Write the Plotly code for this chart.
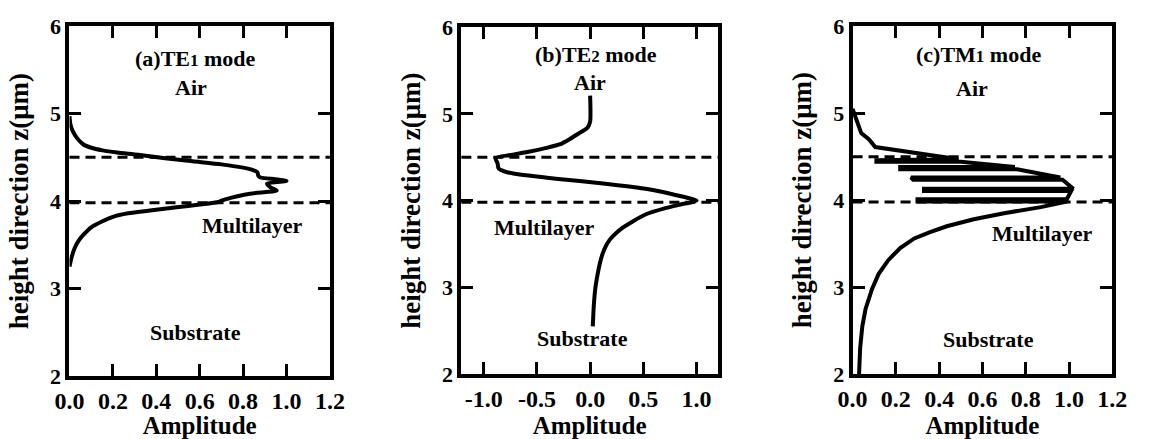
import plotly.graph_objects as go

# ---------------- data ----------------
# Panel (a) TE1 mode
amp_a = [0.0, 0.004, 0.015, 0.035, 0.0625, 0.10, 0.152, 0.22, 0.316, 0.44, 0.568, 0.70, 0.807,
         0.84, 0.866, 0.87, 0.88, 0.95, 1.0, 0.91, 0.93, 0.955, 0.866, 0.80, 0.747, 0.70, 0.6875,
         0.60, 0.494, 0.38, 0.27, 0.20, 0.152, 0.10, 0.0625, 0.04, 0.025, 0.01, 0.0]
z_a = [4.97, 4.88, 4.80, 4.72, 4.65, 4.61, 4.58, 4.555, 4.53, 4.49, 4.455, 4.42, 4.38,
       4.36, 4.33, 4.29, 4.27, 4.25, 4.23, 4.20, 4.15, 4.12, 4.095, 4.07, 4.04, 4.005, 3.99,
       3.96, 3.93, 3.895, 3.86, 3.82, 3.77, 3.70, 3.61, 3.54, 3.47, 3.36, 3.25]

# Panel (b) TE2 mode
amp_b = [0.0, 0.0, -0.025, -0.10, -0.19, -0.28, -0.42, -0.59, -0.75, -0.89, -0.87, -0.86,
         -0.80, -0.71, -0.30, 0.10, 0.55, 0.80, 1.0, 0.85, 0.70, 0.52, 0.40, 0.31, 0.24,
         0.185, 0.145, 0.115, 0.09, 0.07, 0.05, 0.035, 0.025]
z_b = [5.21, 4.91, 4.84, 4.78, 4.71, 4.65, 4.605, 4.56, 4.525, 4.49, 4.43, 4.37,
       4.335, 4.31, 4.25, 4.20, 4.13, 4.065, 4.0, 3.955, 3.91, 3.84, 3.76, 3.69, 3.62,
       3.55, 3.47, 3.38, 3.27, 3.15, 3.0, 2.8, 2.55]

# Panel (c) TM1 mode
amp_c = [0.0, 0.02, 0.04, 0.075, 0.10, 0.105, 0.49, 0.11, 0.11, 0.50, 0.75, 0.22, 0.22,
         0.76, 0.96, 0.27, 0.28, 0.97, 1.02, 0.33, 0.33, 1.01, 0.99, 0.30, 0.30, 0.99,
         0.87, 0.70, 0.56, 0.435, 0.355, 0.285, 0.22, 0.165, 0.12, 0.09, 0.06, 0.045, 0.035, 0.03]
z_c = [5.05, 4.90, 4.77, 4.70, 4.63, 4.61, 4.47, 4.46, 4.44, 4.44, 4.38, 4.38, 4.355,
       4.355, 4.26, 4.26, 4.235, 4.235, 4.13, 4.13, 4.105, 4.105, 4.01, 4.01, 3.985, 3.985,
       3.92, 3.85, 3.78, 3.70, 3.63, 3.56, 3.45, 3.31, 3.15, 2.98, 2.75, 2.55, 2.30, 2.0]

interfaces = [4.5, 3.98]          # multilayer boundaries (dashed)
panel_titles = ["(a)TE<span style='font-size:17px'>1</span> mode",
                "(b)TE<span style='font-size:17px'>2</span> mode",
                "(c)TM<span style='font-size:17px'>1</span> mode"]
region_labels = ["Air", "Multilayer", "Substrate"]

# label positions (amplitude, z) for title, Air, Multilayer, Substrate
label_pos = [
    [(0.58, 5.63), (0.56, 5.30), (0.84, 3.72), (0.58, 2.50)],
    [(0.055, 5.68), (0.0, 5.36), (-0.43, 3.69), (-0.07, 2.41)],
    [(0.58, 5.67), (0.55, 5.28), (0.876, 3.62), (0.63, 2.40)],
]

x_ranges = [[0, 1.2], [-1.21, 1.2], [0, 1.2]]
x_tickvals = [[0.0, 0.2, 0.4, 0.6, 0.8, 1.0, 1.2],
              [-1.0, -0.5, 0.0, 0.5, 1.0],
              [0.0, 0.2, 0.4, 0.6, 0.8, 1.0, 1.2]]
x_ticktext = [["0.0", "0.2", "0.4", "0.6", "0.8", "1.0", "1.2"],
              ["-1.0", "-0.5", "0.0", "0.5", "1.0"],
              ["0.0", "0.2", "0.4", "0.6", "0.8", "1.0", "1.2"]]
y_tickvals = [2, 3, 4, 5, 6]

x_domains = [[0.0487, 0.2814], [0.3989, 0.6281], [0.7485, 0.9806]]
y_domains = [[0.1207, 0.9658], [0.1253, 0.9636], [0.1253, 0.9658]]
line_shapes = ["spline", "spline", "linear"]

# ---------------- figure ----------------
FONT = "Liberation Serif"
fig = go.Figure()
series = [(amp_a, z_a), (amp_b, z_b), (amp_c, z_c)]
for i, (xs, ys) in enumerate(series):
    sfx = "" if i == 0 else str(i + 1)
    fig.add_trace(go.Scatter(x=xs, y=ys, mode="lines",
                             line=dict(color="black", width=4, shape=line_shapes[i],
                                       smoothing=0.6),
                             xaxis="x" + sfx, yaxis="y" + sfx,
                             showlegend=False, hoverinfo="skip"))

layout = dict(
    width=1149, height=439,
    margin=dict(l=0, r=0, t=0, b=0),
    paper_bgcolor="white", plot_bgcolor="white",
    font=dict(family=FONT, color="black", weight="bold"),
    showlegend=False,
)
annotations = []
shapes = []
for i in range(3):
    sfx = "" if i == 0 else str(i + 1)
    layout["xaxis" + sfx] = dict(
        domain=x_domains[i], range=x_ranges[i], anchor="y" + sfx,
        tickvals=x_tickvals[i], ticktext=x_ticktext[i],
        ticks="inside", ticklen=12, tickwidth=3, tickcolor="black",
        showline=True, linewidth=4, linecolor="black", mirror="ticks",
        showgrid=False, zeroline=False,
        tickfont=dict(family=FONT, size=24, color="black", weight="bold"),
        title=dict(text="Amplitude", standoff=0,
                   font=dict(family=FONT, size=25, color="black", weight="bold")),
    )
    layout["yaxis" + sfx] = dict(
        domain=y_domains[i], range=[2, 6], anchor="x" + sfx,
        tickvals=y_tickvals,
        ticks="inside", ticklen=12, tickwidth=3, tickcolor="black",
        showline=True, linewidth=4, linecolor="black", mirror="ticks",
        showgrid=False, zeroline=False,
        tickfont=dict(family=FONT, size=22, color="black", weight="bold"),
        title=dict(text="height direction z(μm)",
                   font=dict(family=FONT, size=27, color="black", weight="bold")),
    )
    for z in interfaces:
        shapes.append(dict(type="line", xref="x" + sfx + " domain", yref="y" + sfx,
                           x0=0, x1=1, y0=z, y1=z,
                           line=dict(color="black", width=3, dash="10px,6px")))
    texts = [panel_titles[i]] + region_labels
    for t, (ax, az) in zip(texts, label_pos[i]):
        annotations.append(dict(text=t, x=ax, y=az, xref="x" + sfx, yref="y" + sfx,
                                showarrow=False,
                                font=dict(family=FONT, size=22, color="black", weight="bold")))

layout["annotations"] = annotations
layout["shapes"] = shapes
fig.update_layout(**layout)
fig.write_html("out.html")
